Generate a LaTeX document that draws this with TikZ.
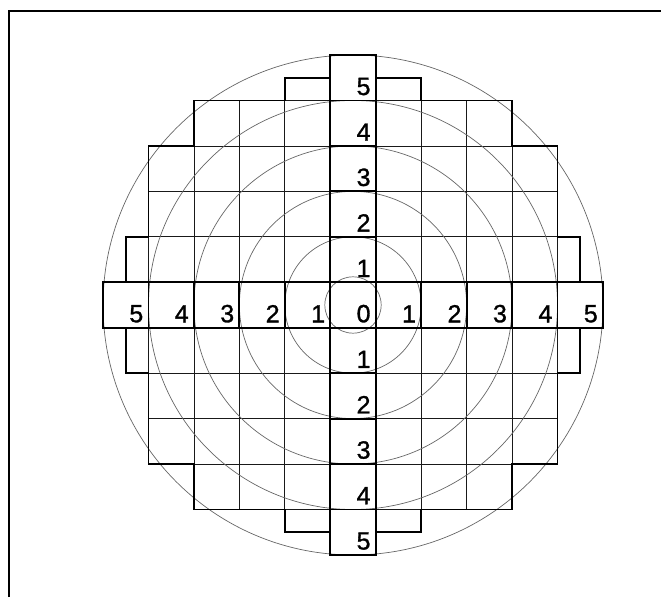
\documentclass[tikz,border=0pt]{standalone}
\usepackage{fontspec}
\setmainfont{Liberation Sans}
\newfontfamily\digitfont[FakeBold=1.2]{Liberation Sans}
\begin{document}
\begin{tikzpicture}[
  thickline/.style={line width=1.9pt, line join=miter},
  gridline/.style={line width=0.8pt, black!90},
  ring/.style={line width=0.7pt, black!60},
  cellbox/.style={draw, rectangle, line width=1.9pt, minimum width=45.45pt, minimum height=45.45pt, inner sep=0pt, outer sep=0pt},
  digit/.style={font=\digitfont\fontsize{25}{25}\selectfont, inner sep=0pt, anchor=south east},
  frameline/.style={line width=1.4pt}
]
\useasboundingbox (0,0) rectangle (661pt,597pt);
\draw[frameline] (9pt,0pt) -- (9pt,586pt) -- (661pt,586pt);
\begin{scope}[shift={(353pt,292pt)}, x=45.45pt, y=45.45pt]
  \coordinate (c) at (0,0);
  % thin grid, clipped to the stepped outline
  \begin{scope}
    \clip (-0.5,5.5) -- (0.5,5.5) -- (0.5,5) -- (1.5,5) -- (1.5,4.5) -- (3.5,4.5) -- (3.5,3.5) -- (4.5,3.5) -- (4.5,1.5) -- (5,1.5) -- (5,0.5) -- (5.5,0.5) -- (5.5,-0.5) -- (5,-0.5) -- (5,-1.5) -- (4.5,-1.5) -- (4.5,-3.5) -- (3.5,-3.5) -- (3.5,-4.5) -- (1.5,-4.5) -- (1.5,-5) -- (0.5,-5) -- (0.5,-5.5) -- (-0.5,-5.5) -- (-0.5,-5) -- (-1.5,-5) -- (-1.5,-4.5) -- (-3.5,-4.5) -- (-3.5,-3.5) -- (-4.5,-3.5) -- (-4.5,-1.5) -- (-5,-1.5) -- (-5,-0.5) -- (-5.5,-0.5) -- (-5.5,0.5) -- (-5,0.5) -- (-5,1.5) -- (-4.5,1.5) -- (-4.5,3.5) -- (-3.5,3.5) -- (-3.5,4.5) -- (-1.5,4.5) -- (-1.5,5) -- (-0.5,5) -- cycle;
    \foreach \k in {-4.5,-3.5,-2.5,-1.5,1.5,2.5,3.5,4.5} {
      \draw[gridline] (\k,-6) -- (\k,6);
      \draw[gridline] (-6,\k) -- (6,\k);
    }
  \end{scope}
  % concentric rings
  \foreach \r in {0.62,1.5,2.5,3.5,4.5,5.5} {
    \draw[ring] (c) circle[radius=\r];
  }
  % thick stepped outline
  \draw[thickline] (-0.5,5.5) -- (0.5,5.5) -- (0.5,5) -- (1.5,5) -- (1.5,4.5) -- (3.5,4.5) -- (3.5,3.5) -- (4.5,3.5) -- (4.5,1.5) -- (5,1.5) -- (5,0.5) -- (5.5,0.5) -- (5.5,-0.5) -- (5,-0.5) -- (5,-1.5) -- (4.5,-1.5) -- (4.5,-3.5) -- (3.5,-3.5) -- (3.5,-4.5) -- (1.5,-4.5) -- (1.5,-5) -- (0.5,-5) -- (0.5,-5.5) -- (-0.5,-5.5) -- (-0.5,-5) -- (-1.5,-5) -- (-1.5,-4.5) -- (-3.5,-4.5) -- (-3.5,-3.5) -- (-4.5,-3.5) -- (-4.5,-1.5) -- (-5,-1.5) -- (-5,-0.5) -- (-5.5,-0.5) -- (-5.5,0.5) -- (-5,0.5) -- (-5,1.5) -- (-4.5,1.5) -- (-4.5,3.5) -- (-3.5,3.5) -- (-3.5,4.5) -- (-1.5,4.5) -- (-1.5,5) -- (-0.5,5) -- cycle;
  % cross of numbered cells
  \node[cellbox] (C) at (0,0) {};
  \node[digit] (tC) at ([xshift=-5pt,yshift=5pt]C.south east) {0};
  \foreach \i in {1,...,5} {
    \node[cellbox] (R\i) at (\i,0) {};
    \node[cellbox] (L\i) at (-\i,0) {};
    \node[cellbox] (U\i) at (0,\i) {};
    \node[cellbox] (D\i) at (0,-\i) {};
    \node[digit] (tR\i) at ([xshift=-5pt,yshift=5pt]R\i.south east) {\i};
    \node[digit] (tL\i) at ([xshift=-5pt,yshift=5pt]L\i.south east) {\i};
    \node[digit] (tU\i) at ([xshift=-5pt,yshift=5pt]U\i.south east) {\i};
    \node[digit] (tD\i) at ([xshift=-5pt,yshift=5pt]D\i.south east) {\i};
  }
\end{scope}
\end{tikzpicture}
\end{document}
